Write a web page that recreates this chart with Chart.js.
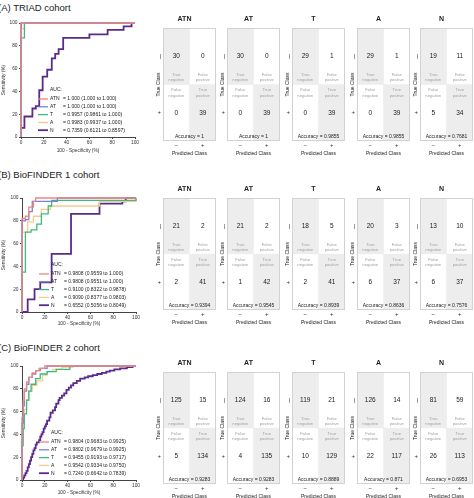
<!DOCTYPE html>
<html>
<head>
<meta charset="utf-8">
<script src="https://cdn.jsdelivr.net/npm/chart.js@4/dist/chart.umd.min.js"></script>
<style>
  body { margin:0; width:474px; height:498px; position:relative; overflow:hidden; background:#fff; }
  .ptitle { position:absolute; left:-2px; font:9.5px "Liberation Sans", Arial, sans-serif; color:#222; line-height:12px; white-space:nowrap; }
</style>
</head>
<body>
<div class="ptitle" style="top:2px">(A) TRIAD cohort</div>
<div class="ptitle" style="top:169px">(B) BioFINDER 1 cohort</div>
<div class="ptitle" style="top:342px">(C) BioFINDER 2 cohort</div>
<script>
// ---------- data ----------
const models = ['ATN', 'AT', 'T', 'A', 'N'];
const predLabels = ['\u2212', '+'];

// ROC curves: [100 - specificity, sensitivity] corner points
const triadATN = [[0,0],[0,100],[100,100]];
const triadAT  = [[0,0],[0,100],[100,100]];
const triadT   = [[0,0],[0,87],[3,100],[100,100]];
const triadA   = [[0,0],[0,95],[3,100],[100,100]];
const triadN   = [[0,0],[0,8],[3,18],[10,25],[13,27],[16,41],[19,53],[23,59],[27,69],[30,73],[33,77],[37,87],[60,90],[76,94],[90,97],[97,100],[100,100]];

const bf1ATN = [[0,0],[0,82],[3,84],[6,92],[10,97],[12,100],[100,100]];
const bf1AT  = [[0,0],[0,80],[3,81],[6,88],[9,97],[31,100],[100,100]];
const bf1T   = [[0,0],[0,35],[3,70],[8,72],[13,77],[17,86],[23,93],[26,98],[100,100]];
const bf1A   = [[0,0],[0,70],[5,79],[10,84],[17,90],[25,93],[68,97],[100,100]];
const bf1N   = [[0,0],[5,11],[11,20],[16,26],[26,51],[43,86],[68,95],[88,97],[91,100],[100,100]];

const bf2ATN = [[0,0],[0,55],[1,70],[2,80],[4,86],[6,90],[9,94],[12,96],[15,98],[20,100],[100,100]];
const bf2AT  = [[0,0],[0,50],[1,65],[2,78],[4,84],[6,90],[9,93],[12,96],[16,98],[22,100],[100,100]];
const bf2T   = [[0,0],[0,30],[1,45],[2,58],[4,70],[6,78],[8,84],[12,89],[16,93],[22,95],[30,97],[42,100],[100,100]];
const bf2A   = [[0,0],[0,35],[1,52],[2,62],[4,70],[6,78],[9,83],[13,87],[18,92],[22,95],[27,97],[35,99],[45,100],[100,100]];
const bf2N   = [[0,0],[1,2],[2,4],[3,6],[4,8],[5,11],[6,14],[7,17],[8,20],[9,23],[10,26],[11,28],[12,31],[13,33],[15,35],[16,38],[17,40],[18,42],[19,45],[20,47],[21,49],[22,52],[24,55],[25,59],[27,61],[29,64],[30,67],[32,70],[33,72],[35,74],[37,76],[39,79],[41,81],[43,83],[45,85],[48,87],[51,89],[55,90],[58,91],[62,92],[66,93],[70,94],[74,95],[77,96],[81,97],[86,98],[92,99],[97,100],[100,100]];

// AUC legend values
const triadAuc = ['1.000','1.000','0.9957','0.9983','0.7359'];
const triadLo  = ['1.000','1.000','0.9861','0.9937','0.6121'];
const triadHi  = ['1.000','1.000','1.000','1.000','0.8597'];
const bf1Auc = ['0.9808','0.9808','0.9100','0.9090','0.6552'];
const bf1Lo  = ['0.9559','0.9551','0.8322','0.8377','0.5056'];
const bf1Hi  = ['1.000','1.000','0.9878','0.9803','0.8049'];
const bf2Auc = ['0.9804','0.9802','0.9455','0.9542','0.7240'];
const bf2Lo  = ['0.9683','0.9679','0.9193','0.9334','0.6642'];
const bf2Hi  = ['0.9925','0.9925','0.9717','0.9750','0.7839'];

// Confusion matrices (per model: ATN, AT, T, A, N)
const triadTN = [30,30,29,29,19], triadFP = [0,0,1,1,11], triadFN = [0,0,0,0,5], triadTP = [39,39,39,39,34];
const triadAcc = ['1','1','0.9855','0.9855','0.7681'];
const bf1TN = [21,21,18,20,13], bf1FP = [2,2,5,3,10], bf1FN = [2,1,2,6,6], bf1TP = [41,42,41,37,37];
const bf1Acc = ['0.9394','0.9545','0.8939','0.8636','0.7576'];
const bf2TN = [125,124,119,126,81], bf2FP = [15,16,21,14,59], bf2FN = [5,4,10,22,26], bf2TP = [134,135,129,117,113];
const bf2Acc = ['0.9283','0.9283','0.8889','0.871','0.6953'];

// ---------- style ----------
const lineColors = ['#f0867d', '#7282de', '#3dba7c', '#f9c98b', '#5a2a8c'];
const FONT = '"Liberation Sans", Arial, sans-serif';
Chart.defaults.font.family = FONT;

function mkCanvas(left, top, w, h) {
  const c = document.createElement('canvas');
  c.width = w; c.height = h;
  c.style.cssText = `position:absolute;left:${left}px;top:${top}px;width:${w}px;height:${h}px`;
  document.body.appendChild(c);
  return c;
}

const rocLegend = {
  id: 'rocLegend',
  afterDatasetsDraw(chart, args, o) {
    const { ctx, chartArea: { left, top } } = chart;
    ctx.save();
    ctx.font = '5px ' + FONT;
    ctx.fillStyle = '#222';
    ctx.textBaseline = 'middle';
    ctx.textAlign = 'left';
    ctx.fillText('AUC:', left + 29, top + 67);
    for (let i = 0; i < 5; i++) {
      const y = top + 76 + i * 7.8;
      ctx.strokeStyle = lineColors[i];
      ctx.lineWidth = i === 4 ? 1.8 : 1.3;
      ctx.beginPath(); ctx.moveTo(left + 17, y); ctx.lineTo(left + 27, y); ctx.stroke();
      ctx.fillText(models[i], left + 29, y);
      ctx.fillText('= ' + o.auc[i] + ' (' + o.lo[i] + ' to ' + o.hi[i] + ')', left + 42, y);
    }
    ctx.restore();
  }
};

function rocChart(g, curves, auc, lo, hi) {
  const c = mkCanvas(0, g.top, 145, g.h);
  new Chart(c, {
    type: 'scatter',
    data: {
      datasets: curves.map((pts, i) => ({
        label: models[i],
        data: pts.map(p => ({ x: p[0], y: p[1] })),
        showLine: true, stepped: 'before',
        borderColor: lineColors[i], backgroundColor: lineColors[i],
        borderWidth: i === 4 ? 1.8 : 1.3, pointRadius: 0, clip: 4, order: i
      }))
    },
    options: {
      responsive: false, animation: false, events: [],
      layout: { padding: { left: 0, top: g.padTop, right: 145 - g.right, bottom: 0 } },
      plugins: { legend: { display: false }, tooltip: { enabled: false }, rocLegend: { auc, lo, hi } },
      scales: {
        x: {
          type: 'linear', min: 0, max: 100,
          ticks: { stepSize: 20, font: { size: 4.8 }, color: '#333', padding: 1, maxRotation: 0 },
          grid: { drawOnChartArea: false, tickLength: 2, color: '#444' },
          border: { color: '#444', width: 1 },
          title: { display: true, text: '100 - Specificity (%)', font: { size: 4.8 }, color: '#333', padding: { top: 0, bottom: g.xtPad } },
          afterFit: s => { s.height = g.xh; }
        },
        y: {
          type: 'linear', min: 0, max: 100,
          ticks: { stepSize: 20, font: { size: 4.8 }, color: '#333', padding: 1.5 },
          grid: { drawOnChartArea: false, tickLength: 2, color: '#444' },
          border: { color: '#444', width: 1 },
          title: { display: true, text: 'Sensitivity (%)', font: { size: 4.8 }, color: '#333', padding: { top: 0.8, bottom: 0 } },
          afterFit: s => { s.width = g.left; }
        }
      }
    },
    plugins: [rocLegend]
  });
}

const cmPlugin = {
  id: 'cm',
  afterDatasetsDraw(chart, args, o) {
    const { ctx, chartArea: a, scales: { x, y } } = chart;
    ctx.save();
    ctx.strokeStyle = '#d2d2d2'; ctx.lineWidth = 1;
    ctx.strokeRect(a.left + 0.5, a.top + 0.5, a.width - 1, a.height - 1);
    const c0 = x.getPixelForValue(0), c1 = x.getPixelForValue(1);
    ctx.textAlign = 'center'; ctx.textBaseline = 'middle';
    ctx.fillStyle = '#222'; ctx.font = '6.5px ' + FONT;
    ctx.fillText(String(o.tn), c0, y.getPixelForValue(1.5));
    ctx.fillText(String(o.fp), c1, y.getPixelForValue(1.5));
    ctx.fillText(String(o.fn), c0, y.getPixelForValue(0.5));
    ctx.fillText(String(o.tp), c1, y.getPixelForValue(0.5));
    ctx.fillStyle = '#a2a2a2'; ctx.font = '4.2px ' + FONT;
    ctx.fillText('True', c0, y.getPixelForValue(1.168));
    ctx.fillText('negative', c0, y.getPixelForValue(1.08));
    ctx.fillText('False', c1, y.getPixelForValue(1.168));
    ctx.fillText('positive', c1, y.getPixelForValue(1.08));
    ctx.fillText('False', c0, y.getPixelForValue(0.9));
    ctx.fillText('negative', c0, y.getPixelForValue(0.8));
    ctx.fillText('True', c1, y.getPixelForValue(0.9));
    ctx.fillText('positive', c1, y.getPixelForValue(0.8));
    ctx.fillStyle = '#222'; ctx.font = '5px ' + FONT;
    ctx.fillText('Accuracy = ' + o.acc, (a.left + a.right) / 2, y.getPixelForValue(0.07));
    ctx.restore();
  }
};

const boxLefts = [163, 227, 292, 357, 420];
const shadeCells = [[1, 2], [0, 1]];
const plainCells = [[0, 1], [1, 2]];

function cmChart(i, g, tn, fp, fn, tp, acc) {
  const bl = boxLefts[i];
  const c = mkCanvas(bl - 10, g.boxTop - 16, 64, g.boxBottom - g.boxTop + 33);
  new Chart(c, {
    type: 'bar',
    data: {
      labels: predLabels,
      datasets: [
        { data: shadeCells, backgroundColor: '#ededed', grouped: false, barPercentage: 1, categoryPercentage: 1, borderWidth: 0 },
        { data: plainCells, backgroundColor: '#ffffff', grouped: false, barPercentage: 1, categoryPercentage: 1, borderWidth: 0 }
      ]
    },
    options: {
      responsive: false, animation: false, events: [],
      layout: { padding: { left: 0, right: 1, top: 0, bottom: 0 } },
      plugins: {
        legend: { display: false }, tooltip: { enabled: false },
        title: { display: true, text: models[i], font: { size: 7, weight: 'bold' }, color: '#222', padding: { top: 3, bottom: 4.6 } },
        cm: { tn: tn[i], fp: fp[i], fn: fn[i], tp: tp[i], acc: acc[i] }
      },
      scales: {
        x: {
          ticks: { font: { size: 6 }, color: '#333', padding: 1 },
          grid: { display: false, drawTicks: false }, border: { display: false },
          title: { display: true, text: 'Predicted Class', font: { size: 5 }, color: '#222', padding: { top: 0, bottom: 1.7 } },
          afterFit: s => { s.height = 17; }
        },
        y: {
          min: 0, max: 2,
          afterBuildTicks: s => { s.ticks = [{ value: 0.5 }, { value: 1.5 }]; },
          ticks: { callback: v => (v > 1 ? '|' : '+'), font: { size: 6 }, color: '#333', padding: 2 },
          grid: { display: false, drawTicks: false }, border: { display: false },
          title: { display: true, text: 'True Class', font: { size: 5 }, color: '#222', padding: { top: 2.7, bottom: 0 } },
          afterFit: s => { s.width = 10; }
        }
      }
    },
    plugins: [cmPlugin]
  });
}

// ---------- build ----------
rocChart({ top: 14, h: 143, padTop: 9, right: 135, left: 21, xh: 20, xtPad: 3 },
  [triadATN, triadAT, triadT, triadA, triadN], triadAuc, triadLo, triadHi);
rocChart({ top: 188, h: 142, padTop: 10, right: 136, left: 22, xh: 18, xtPad: 3 },
  [bf1ATN, bf1AT, bf1T, bf1A, bf1N], bf1Auc, bf1Lo, bf1Hi);
rocChart({ top: 356, h: 142, padTop: 10, right: 136, left: 22, xh: 18, xtPad: 2 },
  [bf2ATN, bf2AT, bf2T, bf2A, bf2N], bf2Auc, bf2Lo, bf2Hi);

const gA = { boxTop: 28, boxBottom: 141 };
const gB = { boxTop: 198, boxBottom: 310 };
const gC = { boxTop: 372, boxBottom: 484 };
for (let i = 0; i < 5; i++) {
  cmChart(i, gA, triadTN, triadFP, triadFN, triadTP, triadAcc);
  cmChart(i, gB, bf1TN, bf1FP, bf1FN, bf1TP, bf1Acc);
  cmChart(i, gC, bf2TN, bf2FP, bf2FN, bf2TP, bf2Acc);
}
</script>
</body>
</html>
